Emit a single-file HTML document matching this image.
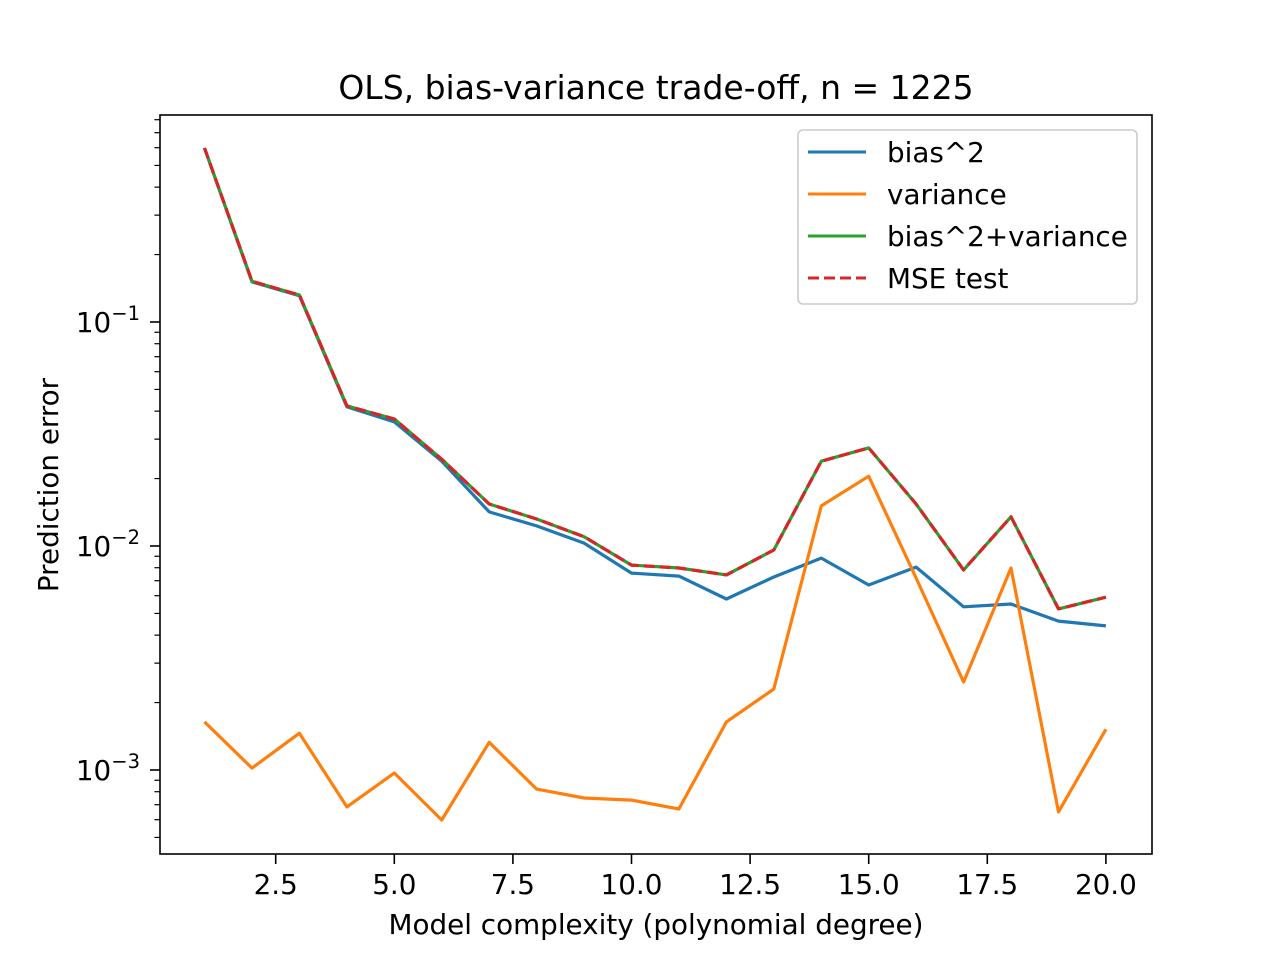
<!DOCTYPE html>
<html><head><meta charset="utf-8">
<style>
html,body{margin:0;padding:0;background:#fff;}
svg{display:block;font-family:"DejaVu Sans","Liberation Sans",sans-serif;}
</style></head>
<body>
<svg id="chart" width="1280" height="960" viewBox="0 0 1280 960" xmlns="http://www.w3.org/2000/svg">
<rect width="1280" height="960" fill="#fff"/>
<text x="656" y="99" font-size="33" text-anchor="middle">OLS, bias-variance trade-off, n = 1225</text>
<text x="656" y="934" font-size="27.8" text-anchor="middle">Model complexity (polynomial degree)</text>
<text transform="translate(58,485) rotate(-90)" font-size="27.8" text-anchor="middle">Prediction error</text>
<g id="ticks"></g>
<g id="series"></g>
<rect x="160" y="115" width="992" height="739" fill="none" stroke="#000" stroke-width="1.6"/>
<g>
<rect x="798" y="130" width="339" height="174" rx="5" fill="#fff" fill-opacity="0.8" stroke="#ccc" stroke-width="1.6"/>
<g><line x1="808" y1="152" x2="866" y2="152" stroke="#1f77b4" stroke-width="3"/><text x="887" y="162" font-size="27.8">bias^2</text></g>
<g><line x1="808" y1="194" x2="866" y2="194" stroke="#ff7f0e" stroke-width="3"/><text x="887" y="204" font-size="27.8">variance</text></g>
<g><line x1="808" y1="236" x2="866" y2="236" stroke="#2ca02c" stroke-width="3"/><text x="887" y="246" font-size="27.8">bias^2+variance</text></g>
<g><line x1="808" y1="278" x2="866" y2="278" stroke="#d62728" stroke-width="3" stroke-dasharray="11,5"/><text x="887" y="288" font-size="27.8">MSE test</text></g>
</g>
</svg>
<script>
const degrees = [1,2,3,4,5,6,7,8,9,10,11,12,13,14,15,16,17,18,19,20];
const bias = [0.598,0.151,0.131,0.0418,0.0358,0.0239,0.0142,0.0123,0.0103,0.00757,0.00734,0.00580,0.00727,0.00883,0.00670,0.00805,0.00535,0.00551,0.00462,0.00440];
const variance = [0.00164,0.00102,0.00146,0.000684,0.000970,0.000598,0.00133,0.000822,0.000750,0.000734,0.000670,0.00164,0.00230,0.0151,0.0205,0.0072,0.00247,0.00798,0.00065,0.00152];
const total = [0.598,0.152,0.132,0.0422,0.0369,0.0244,0.0154,0.0132,0.0110,0.00822,0.00798,0.00743,0.00960,0.0239,0.0274,0.0154,0.00782,0.0135,0.00524,0.00591];
const mse = [0.598,0.152,0.132,0.0422,0.0369,0.0244,0.0154,0.0132,0.0110,0.00822,0.00798,0.00743,0.00960,0.0239,0.0274,0.0154,0.00782,0.0135,0.00524,0.00591];
const xTicks = [2.5,5.0,7.5,10.0,12.5,15.0,17.5,20.0];
const yMajorExp = [-1,-2,-3];

const NS="http://www.w3.org/2000/svg";
function X(v){return 275.7+(v-2.5)*47.44;}
function Y(v){return 322-(Math.log10(v)+1)*224;}
function mk(tag,attrs,parent){const e=document.createElementNS(NS,tag);for(const k in attrs)e.setAttribute(k,attrs[k]);parent.appendChild(e);return e;}
const tg=document.getElementById('ticks');
xTicks.forEach(t=>{
  const x=X(t);
  const l=mk('line',{x1:x,y1:854,x2:x,y2:864,stroke:'#000','stroke-width':1.6},tg);
  
  
  const tx=mk('text',{x:x,y:894,'font-size':27.8,'text-anchor':'middle'},tg);
  tx.textContent=t.toFixed(1);
  
  
});
yMajorExp.forEach(e=>{
  const y=Y(Math.pow(10,e));
  const l=mk('line',{x1:150,y1:y,x2:160,y2:y,stroke:'#000','stroke-width':1.6},tg);
  
  
  const tx=mk('text',{x:140,y:y+10,'font-size':27.8,'text-anchor':'end'},tg);
  tx.innerHTML='10<tspan dy="-12" font-size="19.5">\u2212'+Math.abs(e)+'</tspan>';
  
  
});
for(let e=-4;e<=0;e++){for(let m=2;m<=9;m++){
  const v=m*Math.pow(10,e);const y=Y(v);
  if(y<115||y>854)continue;
  const l=mk('line',{x1:154.4,y1:y,x2:160,y2:y,stroke:'#000','stroke-width':1.2},tg);
  
  
}}
const sg=document.getElementById('series');
function line(vals,color,name,dash){
  const pts=vals.map((v,i)=>X(degrees[i]).toFixed(1)+','+Y(v).toFixed(1)).join(' ');
  const p=mk('polyline',{points:pts,fill:'none',stroke:color,'stroke-width':3.2,'stroke-linejoin':'round'},sg);
  if(dash)p.setAttribute('stroke-dasharray',dash);
  
  
}
line(bias,'#1f77b4','bias-line');
line(variance,'#ff7f0e','variance-line');
line(total,'#2ca02c','total-line');
line(mse,'#d62728','mse-test-line','11,5');
</script>
</body></html>
